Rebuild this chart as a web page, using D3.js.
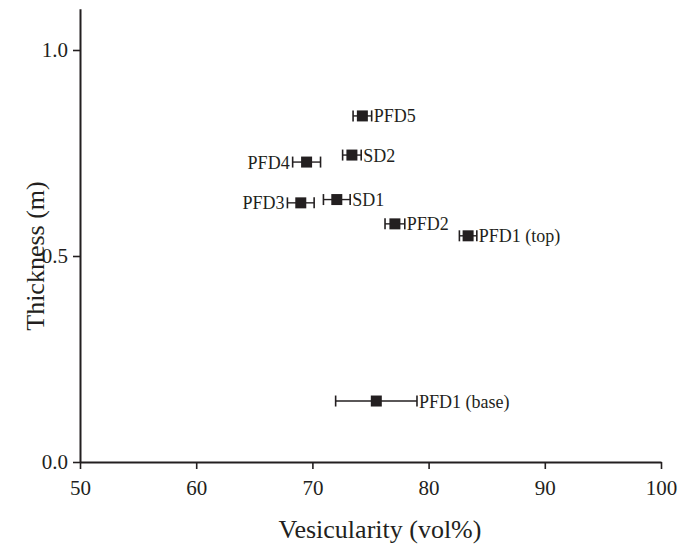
<!DOCTYPE html>
<html>
<head>
<meta charset="utf-8">
<script src="https://cdn.jsdelivr.net/npm/d3@7.9.0/dist/d3.min.js"></script>
<style>
  body { margin: 0; background: #fff; }
  svg text { font-family: "Liberation Serif", "Times New Roman", serif; fill: #231f20; }
</style>
</head>
<body>
<svg id="chart" width="678" height="546"></svg>
<script>
// --- DATA ---
const units = ['PFD5', 'SD2', 'PFD4', 'SD1', 'PFD3', 'PFD2', 'PFD1 (top)', 'PFD1 (base)'];
const vesicularity = [74.3, 73.4, 69.5, 72.1, 69.0, 77.1, 83.4, 75.5];
const vesErr = [0.8, 0.8, 1.2, 1.15, 1.15, 0.85, 0.75, 3.5];
const thickness = [0.84, 0.745, 0.728, 0.637, 0.629, 0.578, 0.549, 0.148];
const labelSide = ['right', 'right', 'left', 'right', 'left', 'right', 'right', 'right'];
const xTicks = [50, 60, 70, 80, 90, 100];
const yTicks = [0, 0.5, 1.0];

const ink = '#231f20';
const svg = d3.select('#chart');

const x = d3.scaleLinear().domain([50, 100]).range([80, 661]);
const y = d3.scaleLinear().domain([0, 1.1]).range([462, 462 - 1.1 * 412]);

// --- AXES ---
const xAxis = svg.append('g')
    .attr('transform', 'translate(0,462)')
    .call(d3.axisBottom(x).tickValues(xTicks).tickSize(7).tickPadding(11).tickSizeOuter(0));

const yAxis = svg.append('g')
    .attr('transform', 'translate(80,0)')
    .call(d3.axisLeft(y).tickValues(yTicks).tickFormat(d3.format('.1f')).tickSize(7).tickPadding(5).tickSizeOuter(0));

[xAxis, yAxis].forEach(g => {
    g.select('.domain').attr('stroke', ink).attr('stroke-width', 2);
    g.selectAll('.tick line').attr('stroke', ink).attr('stroke-width', 1.6);
    g.selectAll('.tick text').attr('font-size', 21).attr('fill', ink)
        .style('font-family', '"Liberation Serif", "Times New Roman", serif');
});

svg.append('text')
    .attr('x', 380).attr('y', 538)
    .attr('text-anchor', 'middle')
    .attr('font-size', 26)
    .text('Vesicularity (vol%)');

svg.append('text')
    .attr('transform', 'translate(44,256) rotate(-90)')
    .attr('text-anchor', 'middle')
    .attr('font-size', 26)
    .text('Thickness (m)');

// --- POINTS ---
const pts = units.map((u, i) => ({
    name: u, v: vesicularity[i], e: vesErr[i], t: thickness[i], side: labelSide[i]
}));

const g = svg.append('g').selectAll('g').data(pts).join('g');

g.append('line')
    .attr('x1', d => x(d.v - d.e)).attr('x2', d => x(d.v + d.e))
    .attr('y1', d => y(d.t)).attr('y2', d => y(d.t))
    .attr('stroke', ink).attr('stroke-width', 1.4);

[-1, 1].forEach(s => {
    g.append('line')
        .attr('x1', d => x(d.v + s * d.e)).attr('x2', d => x(d.v + s * d.e))
        .attr('y1', d => y(d.t) - 5.5).attr('y2', d => y(d.t) + 5.5)
        .attr('stroke', ink).attr('stroke-width', 1.6);
});

g.append('rect')
    .attr('x', d => x(d.v) - 5.5).attr('y', d => y(d.t) - 5.5)
    .attr('width', 11).attr('height', 11)
    .attr('fill', ink);

g.append('text')
    .attr('x', d => d.side === 'right' ? x(d.v + d.e) + 2 : x(d.v - d.e) - 3)
    .attr('y', d => y(d.t))
    .attr('dy', '0.36em')
    .attr('text-anchor', d => d.side === 'right' ? 'start' : 'end')
    .attr('font-size', 18)
    .text(d => d.name);
</script>
</body>
</html>
